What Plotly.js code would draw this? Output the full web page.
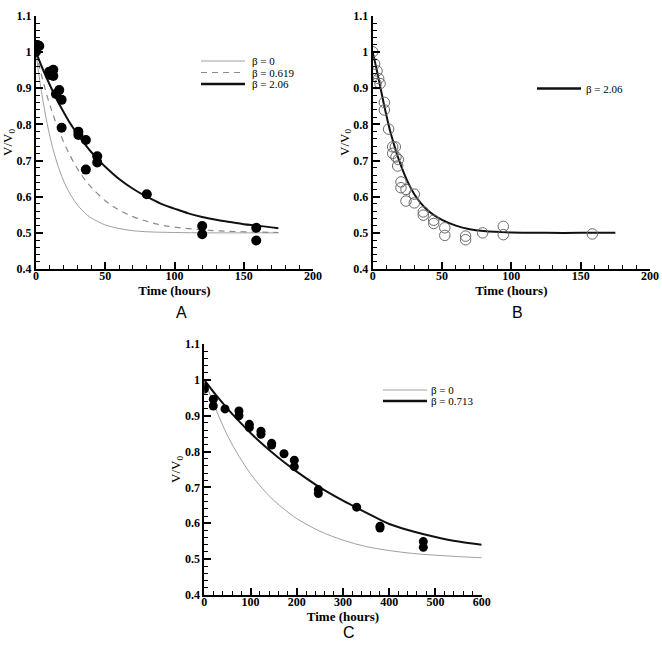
<!DOCTYPE html>
<html>
<head>
<meta charset="utf-8">
<script src="https://cdn.plot.ly/plotly-3.0.1.min.js"></script>
<style>html,body{margin:0;padding:0;background:#fff;}#chart{width:662px;height:647px;}</style>
</head>
<body>
<div id="chart"></div>
<script>
// ---------- Panel A ----------
const aDataT = [0, 0, 1, 2.4, 9.6, 12.5, 10.1, 12.5, 16.8, 14.4, 18.5, 18.5, 30.6, 30.6, 36, 36, 44.2, 44.2, 80, 120, 120, 159, 159];
const aDataV = [1.001, 1.017, 1.020, 1.017, 0.946, 0.951, 0.937, 0.934, 0.895, 0.884, 0.868, 0.791, 0.780, 0.771, 0.757, 0.675, 0.712, 0.695, 0.607, 0.519, 0.496, 0.514, 0.479];

const aB0T = [0, 2, 4, 6, 8, 10, 12, 15, 20, 25, 30, 35, 40, 50, 60, 70, 80, 100, 125, 150, 175];
const aB0V = [1.0, 0.94, 0.89, 0.844, 0.803, 0.768, 0.736, 0.696, 0.643, 0.605, 0.577, 0.556, 0.541, 0.522, 0.512, 0.506, 0.503, 0.501, 0.500, 0.500, 0.500];

const aB619T = [0, 2, 4, 6, 8, 10, 12, 15, 20, 25, 30, 35, 40, 50, 60, 70, 80, 90, 100, 125, 150, 175];
const aB619V = [1.0, 0.967, 0.936, 0.907, 0.879, 0.854, 0.831, 0.798, 0.751, 0.711, 0.677, 0.649, 0.626, 0.589, 0.563, 0.545, 0.532, 0.522, 0.516, 0.507, 0.503, 0.501];

const aB206T = [0, 5, 10, 15, 20, 25, 30, 35, 40, 45, 50, 60, 70, 80, 90, 100, 110, 120, 130, 140, 150, 160, 175];
const aB206V = [1.0, 0.952, 0.909, 0.869, 0.834, 0.801, 0.773, 0.747, 0.723, 0.702, 0.683, 0.649, 0.622, 0.600, 0.581, 0.567, 0.554, 0.544, 0.536, 0.530, 0.524, 0.520, 0.513];

// ---------- Panel B ----------
const bDataT = [0, 1.4, 3.1, 4.3, 5.3, 2.4, 8.4, 8.4, 11.5, 14.4, 16.3, 14.4, 16.8, 18, 18.5, 20.4, 20.4, 24, 24, 30, 30, 36.5, 36.5, 44, 44, 52, 52, 67, 67, 79.3, 94.2, 94.2, 158.4];
const bDataV = [1.001, 0.967, 0.948, 0.927, 0.913, 0.913, 0.861, 0.840, 0.787, 0.738, 0.738, 0.720, 0.710, 0.685, 0.703, 0.641, 0.625, 0.620, 0.588, 0.607, 0.583, 0.558, 0.549, 0.535, 0.526, 0.514, 0.493, 0.491, 0.481, 0.500, 0.518, 0.495, 0.497];

const bB206T = [0, 2.5, 5, 7.5, 10, 12.5, 15, 17.5, 20, 25, 30, 35, 40, 45, 50, 60, 70, 80, 100, 125, 150, 175];
const bB206V = [1.0, 0.958, 0.913, 0.866, 0.823, 0.783, 0.749, 0.718, 0.690, 0.643, 0.607, 0.581, 0.561, 0.547, 0.536, 0.520, 0.510, 0.505, 0.501, 0.500, 0.500, 0.500];

// ---------- Panel C ----------
const cDataT = [0, 0, 19.5, 19.5, 44.8, 75, 75, 97.4, 97.4, 122.6, 122.6, 145.7, 145.7, 172.4, 194.7, 194.7, 246.7, 246.7, 329.6, 380, 380, 473.7, 473.7];
const cDataV = [0.981, 0.974, 0.946, 0.927, 0.919, 0.913, 0.900, 0.876, 0.867, 0.857, 0.848, 0.823, 0.818, 0.794, 0.776, 0.758, 0.694, 0.683, 0.645, 0.592, 0.587, 0.549, 0.533];

const cB0T = [0, 25, 50, 75, 100, 125, 150, 175, 200, 250, 300, 350, 400, 450, 500, 550, 600];
const cB0V = [1.0, 0.918, 0.845, 0.787, 0.738, 0.698, 0.664, 0.637, 0.613, 0.578, 0.553, 0.535, 0.524, 0.516, 0.511, 0.507, 0.504];

const cB713T = [0, 25, 50, 75, 100, 125, 150, 175, 200, 250, 300, 350, 400, 450, 500, 550, 600];
const cB713V = [1.0, 0.958, 0.920, 0.885, 0.852, 0.822, 0.794, 0.768, 0.744, 0.700, 0.663, 0.630, 0.598, 0.578, 0.562, 0.549, 0.540];

const yTicks = [0.4, 0.5, 0.6, 0.7, 0.8, 0.9, 1, 1.1];
const legendA = ['β = 0', 'β = 0.619', 'β = 2.06'];
const legendB = ['β = 2.06'];
const legendC = ['β = 0', 'β = 0.713'];
const panelLabels = ['A', 'B', 'C'];

const serif = 'Liberation Serif, Times New Roman, serif';
const grayLine = {color: '#a0a0a0', width: 1};
const dashLine = {color: '#8a8a8a', width: 1.2, dash: '6px,5px'};
const blackLine = {color: '#111', width: 2};

const traces = [
  {x: aB0T, y: aB0V, xaxis: 'x', yaxis: 'y', mode: 'lines', line: Object.assign({shape: 'spline'}, grayLine)},
  {x: aB619T, y: aB619V, xaxis: 'x', yaxis: 'y', mode: 'lines', line: Object.assign({shape: 'spline'}, dashLine)},
  {x: aB206T, y: aB206V, xaxis: 'x', yaxis: 'y', mode: 'lines', line: Object.assign({shape: 'spline'}, blackLine)},
  {x: aDataT, y: aDataV, xaxis: 'x', yaxis: 'y', mode: 'markers', marker: {color: '#000', size: 10, line: {width: 0}}},
  {x: bB206T, y: bB206V, xaxis: 'x2', yaxis: 'y2', mode: 'lines', line: Object.assign({shape: 'spline'}, blackLine)},
  {x: bDataT, y: bDataV, xaxis: 'x2', yaxis: 'y2', mode: 'markers', marker: {symbol: 'circle-open', color: '#6a6a6a', size: 10.5, line: {width: 1, color: '#6a6a6a'}}},
  {x: cB0T, y: cB0V, xaxis: 'x3', yaxis: 'y3', mode: 'lines', line: Object.assign({shape: 'spline'}, grayLine)},
  {x: cB713T, y: cB713V, xaxis: 'x3', yaxis: 'y3', mode: 'lines', line: Object.assign({shape: 'spline'}, blackLine)},
  {x: cDataT, y: cDataV, xaxis: 'x3', yaxis: 'y3', mode: 'markers', marker: {color: '#000', size: 9, line: {width: 0}}}
];

function xAxis(domain, range, dtick, minorDtick, anchor) {
  return {
    domain: domain, range: range, anchor: anchor,
    showline: true, linewidth: 2, linecolor: '#000', mirror: false,
    showgrid: false, zeroline: false,
    ticks: 'inside', ticklen: 7, tickwidth: 2, tickcolor: '#000',
    dtick: dtick, tick0: 0, ticklabelstandoff: -5,
    minor: {dtick: minorDtick, ticks: 'inside', ticklen: 4, tickwidth: 1, tickcolor: '#000', showgrid: false},
    tickfont: {family: serif, size: 12, color: '#000', weight: 'bold'},
    title: {text: 'Time (hours)', font: {family: serif, size: 13, color: '#000', weight: 'bold'}, standoff: 0}
  };
}
function yAxis(domain, anchor) {
  return {
    domain: domain, range: [0.4, 1.1], anchor: anchor,
    showline: true, linewidth: 2, linecolor: '#000', mirror: false,
    showgrid: false, zeroline: false,
    ticks: 'inside', ticklen: 7, tickwidth: 2, tickcolor: '#000',
    tickvals: yTicks,
    minor: {dtick: 0.02, tick0: 0.4, ticks: 'inside', ticklen: 4, tickwidth: 1, tickcolor: '#000', showgrid: false},
    tickfont: {family: serif, size: 12, color: '#000', weight: 'bold'},
    title: {text: 'V/V<sub>0</sub>', font: {family: serif, size: 13, color: '#000'}, standoff: 1}
  };
}

const W = 662, H = 647;
const px = v => v / W, py = v => 1 - v / H;
const legFont = {family: serif, size: 11, color: '#000'};
function legText(t, x, y) {
  return {text: t, xref: 'paper', yref: 'paper', x: px(x), y: py(y), xanchor: 'left', yanchor: 'middle', showarrow: false, borderpad: 0, font: legFont};
}

const layout = {
  width: W, height: H,
  margin: {l: 0, r: 0, t: 0, b: 0},
  paper_bgcolor: '#fff', plot_bgcolor: '#fff',
  showlegend: false,
  xaxis: xAxis([px(36), px(313)], [0, 200], 50, 10, 'y'),
  yaxis: yAxis([py(269), py(16)], 'x'),
  xaxis2: xAxis([px(372.7), px(650)], [0, 200], 50, 10, 'y2'),
  yaxis2: yAxis([py(269), py(16)], 'x2'),
  xaxis3: xAxis([px(204.3), px(481.7)], [0, 600], 100, 20, 'y3'),
  yaxis3: yAxis([py(595), py(344)], 'x3'),
  shapes: [
    {type: 'line', xref: 'paper', yref: 'paper', x0: px(201), x1: px(245), y0: py(61), y1: py(61), line: grayLine},
    {type: 'line', xref: 'paper', yref: 'paper', x0: px(201), x1: px(245), y0: py(72.5), y1: py(72.5), line: dashLine},
    {type: 'line', xref: 'paper', yref: 'paper', x0: px(201), x1: px(245), y0: py(84), y1: py(84), line: {color: '#111', width: 2.5}},
    {type: 'line', xref: 'paper', yref: 'paper', x0: px(537), x1: px(581), y0: py(88.5), y1: py(88.5), line: {color: '#111', width: 2.5}},
    {type: 'line', xref: 'paper', yref: 'paper', x0: px(383), x1: px(427), y0: py(390), y1: py(390), line: grayLine},
    {type: 'line', xref: 'paper', yref: 'paper', x0: px(383), x1: px(427), y0: py(401), y1: py(401), line: {color: '#111', width: 2.5}}
  ],
  annotations: [
    legText(legendA[0], 251, 61),
    legText(legendA[1], 251, 72.5),
    legText(legendA[2], 251, 84),
    legText(legendB[0], 585, 88.5),
    legText(legendC[0], 430, 390),
    legText(legendC[1], 430, 401),
    {text: panelLabels[0], xref: 'paper', yref: 'paper', x: px(181), y: py(312), xanchor: 'center', yanchor: 'middle', showarrow: false, font: {family: 'Liberation Sans, Arial, sans-serif', size: 16, color: '#000'}},
    {text: panelLabels[1], xref: 'paper', yref: 'paper', x: px(517), y: py(312), xanchor: 'center', yanchor: 'middle', showarrow: false, font: {family: 'Liberation Sans, Arial, sans-serif', size: 16, color: '#000'}},
    {text: panelLabels[2], xref: 'paper', yref: 'paper', x: px(349), y: py(632), xanchor: 'center', yanchor: 'middle', showarrow: false, font: {family: 'Liberation Sans, Arial, sans-serif', size: 16, color: '#000'}}
  ]
};

Plotly.newPlot('chart', traces, layout, {staticPlot: true, displayModeBar: false});
</script>
</body>
</html>
